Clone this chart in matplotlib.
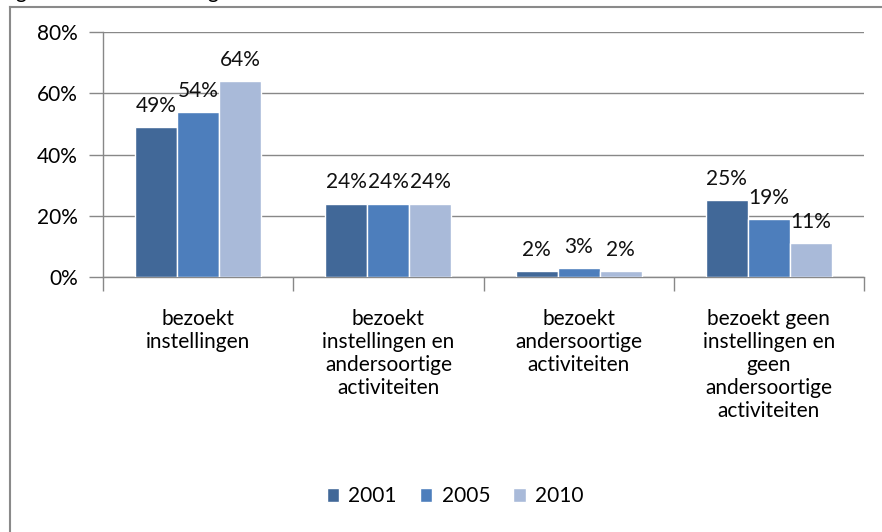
import matplotlib.pyplot as plt
import numpy as np
from matplotlib.lines import Line2D
from matplotlib.ticker import FuncFormatter

plt.rcParams['font.family'] = ['Lato', 'DejaVu Sans']

categories = ['bezoekt\ninstellingen',
              'bezoekt\ninstellingen en\nandersoortige\nactiviteiten',
              'bezoekt\nandersoortige\nactiviteiten',
              'bezoekt geen\ninstellingen en\ngeen\nandersoortige\nactiviteiten']
years = ['2001', '2005', '2010']
v2001 = [49, 24, 2, 25]
v2005 = [54, 24, 3, 19]
v2010 = [64, 24, 2, 11]
colors = ['#416898', '#4D7EBC', '#A9BAD9']

fs = 15
fig = plt.figure(figsize=(8.82, 5.32), dpi=100)
ax = fig.add_axes([0.1168, 0.4793, 0.8628, 0.4605])

x = np.arange(len(categories))
w = 0.221
grid_c = '#888888'
for i, (vals, lab, c) in enumerate(zip([v2001, v2005, v2010], years, colors)):
    pos = x + (i - 1) * w
    ax.bar(pos, vals, width=w, color=c, edgecolor='white', linewidth=1, label=lab, zorder=3)
    for p, v in zip(pos, vals):
        ax.annotate(f'{v}%', (p, v), xytext=(0, 8), textcoords='offset points',
                    ha='center', va='bottom', fontsize=fs, color='#111111', zorder=4)

ax.set_xlim(-0.5, len(categories) - 0.5)
ax.set_ylim(0, 80)
ax.set_yticks([0, 20, 40, 60, 80])
ax.yaxis.set_major_formatter(FuncFormatter(lambda v, _: f'{v:.0f}%'))
ax.grid(axis='y', color=grid_c, linewidth=1, zorder=0)
ax.set_xticks(x)
ax.set_xticklabels(categories, fontsize=fs, linespacing=1.19)
ax.set_xticks(np.arange(len(categories) + 1) - 0.5, minor=True)
ax.tick_params(axis='x', which='major', length=0, pad=23)
ax.tick_params(axis='x', which='minor', length=10, color=grid_c, width=1)
ax.tick_params(axis='y', length=10, color=grid_c, width=1, labelsize=fs, pad=8)
for s in ['top', 'right']:
    ax.spines[s].set_visible(False)
for s in ['left', 'bottom']:
    ax.spines[s].set_color(grid_c)
    ax.spines[s].set_linewidth(1)

ax.legend(loc='center', bbox_to_anchor=(0.4626, -0.895), ncol=3, frameon=False,
          fontsize=fs, handlelength=0.6, handleheight=0.6, columnspacing=1.1,
          handletextpad=0.45)

# outer chart frame (left and top edges visible)
fig.add_artist(Line2D([10 / 882, 10 / 882], [0, 1 - 7 / 532], color='#8a8a8a', lw=1.5,
                      transform=fig.transFigure))
fig.add_artist(Line2D([10 / 882, 1], [1 - 7 / 532, 1 - 7 / 532], color='#8a8a8a', lw=1.5,
                      transform=fig.transFigure))
# cut-off title above the frame
fig.text(15 / 882, 1 + 1.5 / 532, 'g', fontsize=fs, va='baseline', ha='left')
fig.text(207 / 882, 1 + 1.5 / 532, 'g', fontsize=fs, va='baseline', ha='left')

fig.savefig('out.png', dpi=100)
